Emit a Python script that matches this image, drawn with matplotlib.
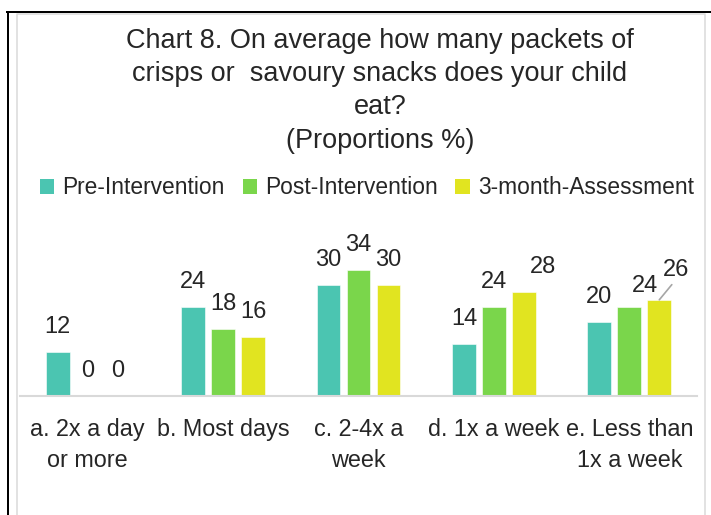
import numpy as np
import matplotlib.pyplot as plt
from matplotlib.patches import Patch
from matplotlib.lines import Line2D

# data
categories = ["a. 2x a day\nor more", "b. Most days", "c. 2-4x a\nweek",
              "d. 1x a week", "e. Less than\n1x a week"]
series_names = ["Pre-Intervention", "Post-Intervention", "3-month-Assessment"]
pre = [12, 24, 30, 14, 20]
post = [0, 18, 34, 24, 24]
three_month = [0, 16, 30, 28, 26]
colors = ["#4BC5B1", "#7AD64B", "#E1E420"]

W, H = 711, 515
DPI = 100
PT = 72.0 / DPI  # points per pixel

plt.rcParams['font.family'] = ['Liberation Sans', 'DejaVu Sans']
fig = plt.figure(figsize=(W / DPI, H / DPI), dpi=DPI)

# plot area in pixels: x 20..697, baseline at y=396, 3.7 px per unit
ax = fig.add_axes([20 / W, (H - 396) / H, 677 / W, 148 / H])
ax.set_xlim(-0.5, 4.5)
ax.set_ylim(0, 40)

x = np.arange(len(categories))
step = 0.2216
width = 0.177
all_series = [pre, post, three_month]
for i, vals in enumerate(all_series):
    ax.bar(x + (i - 1) * step, vals, width, color=colors[i],
           edgecolor='white', linewidth=0.4, zorder=2)

# data labels, ~25 px above each bar (a few nudged like the original)
nudge = {(2, 3): (19, 0), (1, 4): (16, -4)}
for i, vals in enumerate(all_series):
    for j, v in enumerate(vals):
        xpos = x[j] + (i - 1) * step
        if (i, j) == (2, 4):
            ax.annotate(str(v), xy=(xpos, v), xytext=(17 * PT, 30 * PT),
                        textcoords='offset points', ha='center', va='center',
                        fontsize=17, color='#262626', annotation_clip=False,
                        arrowprops=dict(arrowstyle='-', color='#A6A6A6', lw=1.2,
                                        shrinkA=1, shrinkB=0, relpos=(0.45, 0.0)))
            continue
        dx, dy = nudge.get((i, j), (0, 0))
        ax.annotate(str(v), xy=(xpos, v), xytext=(dx * PT, (25 + dy) * PT),
                    textcoords='offset points', ha='center', va='center',
                    fontsize=17, color='#262626', annotation_clip=False)

for s in ['top', 'right', 'left']:
    ax.spines[s].set_visible(False)
ax.spines['bottom'].set_color('#D9D9D9')
ax.spines['bottom'].set_linewidth(1.5)
ax.set_yticks([])
ax.set_xticks(x)
ax.set_xticklabels(categories, fontsize=16.8, color='#262626', linespacing=1.45)
ax.tick_params(axis='x', length=0, pad=16)

# title
fig.text(380 / W, 1 - 28 / H,
         "Chart 8. On average how many packets of\n"
         "crisps or  savoury snacks does your child\n"
         "eat?\n(Proportions %)",
         ha='center', va='top', fontsize=19.5, color='#262626', linespacing=1.36)

# legend
handles = [Patch(facecolor=c, edgecolor='none') for c in colors]
fig.legend(handles, series_names, ncol=3, loc='center',
           bbox_to_anchor=(367 / W, 1 - 188 / H), frameon=False,
           fontsize=16.4, handlelength=0.62, handleheight=0.62,
           handletextpad=0.36, columnspacing=0.78, labelcolor='#262626')

# chart border bits: black outer lines and light grey inner frame
def px_line(xs, ys, **kw):
    fig.add_artist(Line2D([v / W for v in xs], [1 - v / H for v in ys],
                          transform=fig.transFigure, **kw))

px_line([8, 8], [12, 515], color='black', lw=2 * PT)
px_line([7, 711], [12, 12], color='black', lw=2 * PT)
px_line([16.5, 16.5, 705, 705], [515, 13.5, 13.5, 515], color='#D9D9D9', lw=1.5 * PT)

fig.savefig('out.png', dpi=DPI)
